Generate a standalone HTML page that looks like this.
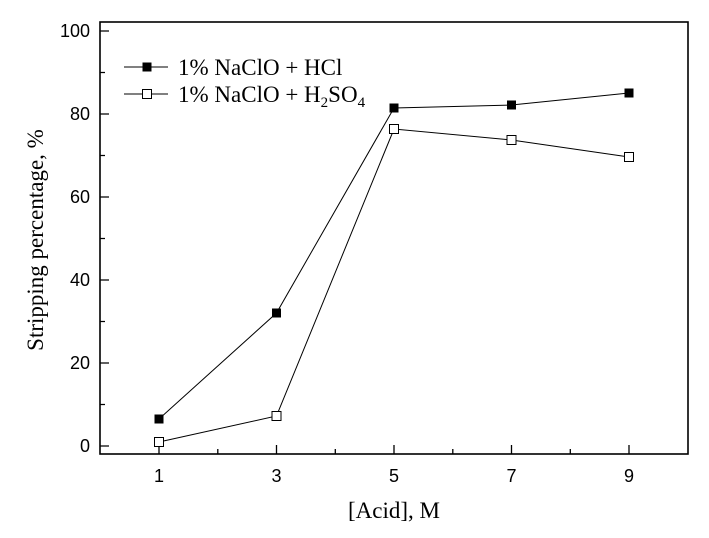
<!DOCTYPE html>
<html><head><style>body{margin:0;background:#fff}</style></head><body>
<svg width="709" height="533" xmlns="http://www.w3.org/2000/svg">
<g fill="none" stroke="#000">
<rect x="100" y="22" width="588" height="432" stroke-width="1.6"/>
<g stroke-width="1.3">
<path d="M159 454v-9M276.5 454v-9M394 454v-9M511.5 454v-9M629 454v-9"/>
<path d="M217.8 454v-5M335.3 454v-5M452.8 454v-5M570.3 454v-5"/>
<path d="M100 446h9M100 363h9M100 280h9M100 197h9M100 114h9M100 31h9"/>
<path d="M100 404.5h5M100 321.5h5M100 238.5h5M100 155.5h5M100 72.5h5"/>
</g>
<polyline stroke-width="1" points="159,419 276.5,313 394,108 511.5,105 629,93"/>
<polyline stroke-width="1" points="159,442 276.5,416 394,129 511.5,140 629,157"/>
<path stroke-width="1" d="M124 67h44M124 94h44"/>
</g>
<g fill="#000">
<rect x="154.5" y="414.5" width="9" height="9"/><rect x="272" y="308.5" width="9" height="9"/>
<rect x="389.5" y="103.5" width="9" height="9"/><rect x="507" y="100.5" width="9" height="9"/>
<rect x="624.5" y="88.5" width="9" height="9"/><rect x="142.5" y="62.5" width="9" height="9"/>
</g>
<g fill="#fff" stroke="#000" stroke-width="1">
<rect x="154.5" y="437.5" width="9" height="9"/><rect x="272" y="411.5" width="9" height="9"/>
<rect x="389.5" y="124.5" width="9" height="9"/><rect x="507" y="135.5" width="9" height="9"/>
<rect x="624.5" y="152.5" width="9" height="9"/><rect x="142.5" y="89.5" width="9" height="9"/>
</g>
<g font-family="Liberation Sans, sans-serif" font-size="18" text-anchor="middle">
<text x="159" y="482">1</text><text x="276.5" y="482">3</text><text x="394" y="482">5</text><text x="511.5" y="482">7</text><text x="629" y="482">9</text>
<g text-anchor="end"><text x="90" y="452">0</text><text x="90" y="369">20</text><text x="90" y="286">40</text><text x="90" y="203">60</text><text x="90" y="120">80</text><text x="90" y="37">100</text></g>
</g>
<g font-family="Liberation Serif, serif" font-size="23">
<text x="394" y="518" text-anchor="middle">[Acid], M</text>
<text transform="translate(43,240) rotate(-90)" text-anchor="middle">Stripping percentage, %</text>
<text x="178" y="75">1% NaClO + HCl</text>
<text x="178" y="102">1% NaClO + H<tspan font-size="15" dy="5">2</tspan><tspan dy="-5">SO</tspan><tspan font-size="15" dy="5">4</tspan></text>
</g>
</svg>
</body></html>
